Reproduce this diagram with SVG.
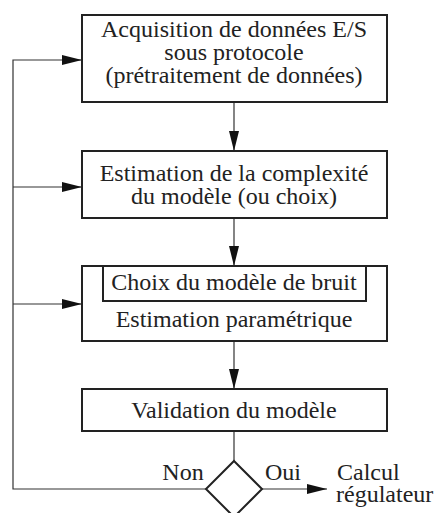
<svg xmlns="http://www.w3.org/2000/svg" width="437" height="513" viewBox="0 0 437 513">
<defs>
<marker id="ah" viewBox="0 0 20 10" refX="20" refY="5" markerWidth="20" markerHeight="10" markerUnits="userSpaceOnUse" orient="auto">
<path d="M0,0 L20,5 L0,10 z" fill="#111"/>
</marker>
<style>
.box{fill:#fff;stroke:#222;stroke-width:2}
.ln{fill:none;stroke:#333;stroke-width:1.2}
</style>
</defs>
<rect width="437" height="513" fill="#fff"/>
<g id="connectors">
<path class="ln" d="M234,102 V151" marker-end="url(#ah)"/>
<path class="ln" d="M234,218 V266" marker-end="url(#ah)"/>
<path class="ln" d="M234,341 V389" marker-end="url(#ah)"/>
<path class="ln" d="M234,431 V461"/>
<path class="ln" d="M206,489 H13 V60 H82" marker-end="url(#ah)"/>
<path class="ln" d="M13,187 H82" marker-end="url(#ah)"/>
<path class="ln" d="M13,304 H82" marker-end="url(#ah)"/>
<path class="ln" d="M262,489 H327" marker-end="url(#ah)"/>
</g>
<g font-family="Liberation Serif, Times New Roman, serif" font-size="24" fill="#222" text-anchor="middle">
<g id="n1">
<rect class="box" x="82" y="15" width="305" height="87"/>
<text x="234" y="37">Acquisition de données E/S</text>
<text x="234" y="60">sous protocole</text>
<text x="234" y="83">(prétraitement de données)</text>
</g>
<g id="n2">
<rect class="box" x="82" y="151" width="305" height="67"/>
<text x="234" y="181">Estimation de la complexité</text>
<text x="234" y="204">du modèle (ou choix)</text>
</g>
<g id="n3">
<rect class="box" x="82" y="266" width="305" height="75"/>
<path class="box" d="M103,266 V301 H366 V266" style="fill:none"/>
<text x="234" y="290">Choix du modèle de bruit</text>
<text x="234" y="327">Estimation paramétrique</text>
</g>
<g id="n4">
<rect class="box" x="82" y="389" width="305" height="42"/>
<text x="234" y="418">Validation du modèle</text>
</g>
<g id="decision">
<path class="box" d="M234,461 L262,489 L234,517 L206,489 z"/>
<text x="183" y="480">Non</text>
<text x="265" y="480" text-anchor="start">Oui</text>
</g>
<g id="out" text-anchor="start">
<text x="337" y="480">Calcul</text>
<text x="336" y="502">régulateur</text>
</g>
</g>
</svg>
